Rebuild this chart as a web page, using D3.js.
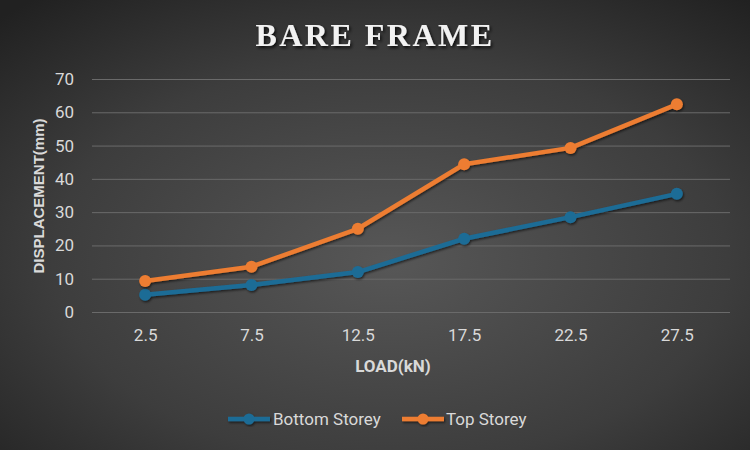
<!DOCTYPE html>
<html><head><meta charset="utf-8">
<script src="https://cdn.jsdelivr.net/npm/d3@7"></script>
<style>html,body{margin:0;padding:0;background:#333;}svg{display:block;}</style>
</head><body>
<script>
const categories = ["2.5","7.5","12.5","17.5","22.5","27.5"];
const bottomStorey = [5.2, 8.1, 12.0, 22.0, 28.5, 35.5];
const topStorey = [9.3, 13.6, 25.0, 44.4, 49.3, 62.4];
const yTicks = [0,10,20,30,40,50,60,70];
const seriesNames = ["Bottom Storey","Top Storey"];
const seriesColors = ["#1d6c96","#ed7d31"];

(function(){
const W=750,H=450;
const svg=d3.select("body").append("svg").attr("width",W).attr("height",H);
const defs=svg.append("defs");
const rg=defs.append("radialGradient").attr("id","bg").attr("cx","0.52").attr("cy","0.58").attr("r","0.75");
rg.append("stop").attr("offset","0").attr("stop-color","#575757");
rg.append("stop").attr("offset","0.6").attr("stop-color","#3d3d3d");
rg.append("stop").attr("offset","1").attr("stop-color","#212121");
const sh=defs.append("filter").attr("id","sh").attr("x","-20%").attr("y","-20%").attr("width","140%").attr("height","140%");
sh.append("feDropShadow").attr("dx",1).attr("dy",1.5).attr("stdDeviation",1.2).attr("flood-color","#000").attr("flood-opacity",0.6);
const tsh=defs.append("filter").attr("id","tsh").attr("x","-10%").attr("y","-30%").attr("width","120%").attr("height","160%");
tsh.append("feDropShadow").attr("dx",1.5).attr("dy",2).attr("stdDeviation",1.5).attr("flood-color","#000").attr("flood-opacity",0.8);

svg.append("rect").attr("width",W).attr("height",H).attr("fill","url(#bg)");

const pL=92,pR=730,pT=79,pB=312;
const x=d3.scalePoint().domain(categories).range([pL,pR]).padding(0.5);
const y=d3.scaleLinear().domain([0,70]).range([pB,pT]);

const font="'Liberation Sans Narrow','Roboto','Liberation Sans',Arial,sans-serif";

const yAxis=d3.axisLeft(y).tickValues(yTicks).tickSize(-(pR-pL)).tickPadding(18);
const gy=svg.append("g").attr("transform",`translate(${pL},0)`).call(yAxis);
gy.select(".domain").remove();
gy.selectAll(".tick line").attr("stroke","#6a6a6a").attr("stroke-width",1);
gy.selectAll(".tick text").attr("fill","#d9d9d9").attr("font-size",17).attr("font-family",font);

const xAxis=d3.axisBottom(x).tickSize(0).tickPadding(17);
const gx=svg.append("g").attr("transform",`translate(0,${pB})`).call(xAxis);
gx.select(".domain").remove();
gx.selectAll(".tick text").attr("fill","#d9d9d9").attr("font-size",17).attr("font-family",font);

svg.append("text").attr("x",375).attr("y",46).attr("text-anchor","middle")
  .attr("font-family","'Liberation Serif','Times New Roman',serif").attr("font-weight","bold")
  .attr("font-size",32).attr("letter-spacing",2.5).attr("fill","#f2f2f2").attr("filter","url(#tsh)").text("BARE FRAME");

svg.append("text").attr("transform","translate(44,196) rotate(-90)").attr("text-anchor","middle")
  .attr("font-family","'Liberation Sans',Arial,sans-serif").attr("font-weight","bold").attr("font-size",15)
  .attr("fill","#d9d9d9").text("DISPLACEMENT(mm)");
svg.append("text").attr("x",393).attr("y",372).attr("text-anchor","middle")
  .attr("font-family",font).attr("font-weight","bold").attr("font-size",17)
  .attr("fill","#d9d9d9").text("LOAD(kN)");

const series=[bottomStorey,topStorey];
const line=d3.line().x((d,i)=>x(categories[i])).y(d=>y(d));
series.forEach((s,k)=>{
  const g=svg.append("g").attr("filter","url(#sh)");
  g.append("path").datum(s).attr("d",line).attr("fill","none").attr("stroke",seriesColors[k])
    .attr("stroke-width",4.5).attr("stroke-linejoin","round").attr("stroke-linecap","round");
  g.selectAll("circle").data(s).join("circle").attr("cx",(d,i)=>x(categories[i])).attr("cy",d=>y(d))
    .attr("r",6).attr("fill",seriesColors[k]);
});

const leg=[{x:228,tx:273},{x:402,tx:446}];
seriesNames.forEach((n,k)=>{
  const g=svg.append("g").attr("filter","url(#sh)");
  g.append("line").attr("x1",leg[k].x).attr("x2",leg[k].x+42).attr("y1",419).attr("y2",419)
    .attr("stroke",seriesColors[k]).attr("stroke-width",4.5);
  g.append("circle").attr("cx",leg[k].x+21).attr("cy",419).attr("r",5.5).attr("fill",seriesColors[k]);
  svg.append("text").attr("x",leg[k].tx).attr("y",425).attr("font-family",font).attr("font-size",17)
    .attr("fill","#d9d9d9").text(n);
});
})();
</script>
</body></html>
